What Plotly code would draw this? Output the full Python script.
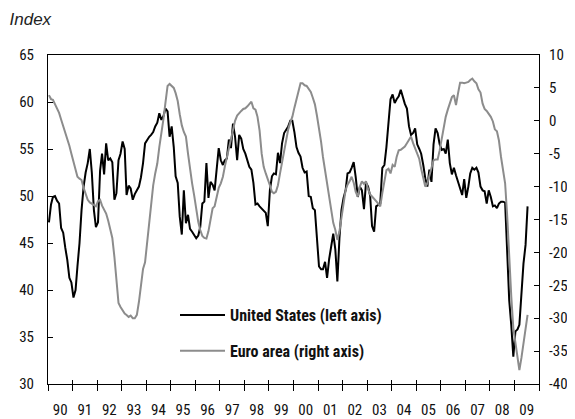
import pandas as pd
import plotly.graph_objects as go

# Monthly values, Jan 1990 .. Jul 2009
us_pmi = [
    47.2, 49.1, 49.9, 50.0, 49.5, 49.2, 46.6, 46.1, 44.5, 43.2, 41.3, 40.8,   # 1990
    39.2, 40.0, 42.5, 45.0, 48.5, 51.0, 52.5, 53.5, 55.0, 52.5, 48.5, 46.7,   # 1991
    47.2, 52.7, 54.5, 52.3, 55.6, 53.8, 54.0, 53.6, 49.6, 50.3, 53.8, 54.5,   # 1992
    55.8, 55.0, 50.1, 51.1, 50.8, 49.6, 50.2, 50.6, 51.0, 52.0, 53.5, 55.6,   # 1993
    56.0, 56.3, 56.5, 56.8, 57.4, 57.8, 58.8, 58.1, 58.5, 59.3, 59.0, 56.3,   # 1994
    57.4, 55.2, 52.1, 51.4, 47.8, 45.9, 50.6, 47.1, 48.0, 46.5, 46.2, 45.9,   # 1995
    45.5, 45.8, 46.7, 49.2, 49.4, 53.5, 49.8, 51.5, 51.2, 50.6, 53.0, 55.1,   # 1996
    53.8, 53.3, 53.8, 54.0, 56.0, 55.1, 57.7, 56.3, 53.8, 56.5, 56.1, 55.0,   # 1997
    54.5, 53.8, 53.1, 52.8, 51.4, 49.1, 49.2, 48.9, 48.7, 48.5, 48.2, 46.8,   # 1998
    50.6, 52.1, 52.4, 52.3, 54.6, 53.5, 55.6, 56.7, 57.0, 57.4, 58.0, 58.0,   # 1999
    56.8, 55.2, 54.6, 54.2, 53.0, 52.5, 52.6, 50.0, 49.9, 48.7, 48.5, 45.0,   # 2000
    42.5, 42.2, 42.2, 43.0, 41.3, 43.3, 44.6, 46.0, 44.3, 40.9, 45.5, 48.5,   # 2001
    49.8, 50.6, 52.4, 52.5, 53.0, 53.6, 52.0, 49.9, 51.0, 50.6, 48.6, 51.4,   # 2002
    51.0, 50.0, 46.8, 46.2, 48.9, 49.1, 49.2, 53.0, 53.3, 55.2, 57.8, 60.3,   # 2003
    60.8, 59.9, 60.3, 60.6, 61.3, 60.5, 59.8, 59.3, 57.4, 56.5, 56.7, 57.2,   # 2004
    55.5, 55.0, 54.5, 53.3, 51.9, 51.0, 52.8, 51.5, 55.5, 57.2, 56.7, 55.5,   # 2005
    54.9, 55.0, 54.5, 56.0, 53.5, 52.3, 53.0, 52.2, 51.5, 51.0, 50.1, 51.8,   # 2006
    49.8, 51.0, 52.4, 53.0, 52.8, 53.0, 52.5, 51.0, 50.6, 50.5, 49.2, 50.6,   # 2007
    49.9, 48.9, 49.0, 48.7, 49.2, 49.4, 49.4, 49.3, 43.5, 38.9, 36.2, 32.9,   # 2008
    35.6, 35.8, 36.3, 40.1, 42.8, 44.8, 48.9,                                 # 2009
]

euro_conf = [
    3.9, 3.3, 3.2, 2.5, 1.8, 1.2, 0.2, -0.8, -1.8, -2.5, -3.8, -5.0,            # 1990
    -6.3, -7.5, -8.5, -8.8, -9.0, -10.2, -11.0, -12.0, -12.4, -12.6, -12.8, -13.0,  # 1991
    -12.2, -12.0, -12.9, -13.5, -14.1, -15.2, -16.5, -17.8, -20.7, -24.7, -27.7, -28.3,  # 1992
    -28.8, -29.3, -29.5, -29.8, -29.6, -30.0, -30.0, -29.5, -27.5, -24.5, -22.5, -21.5,  # 1993
    -18.5, -15.0, -11.8, -9.8, -8.0, -6.5, -4.0, -2.0, 0.3, 2.8, 5.3, 5.6,       # 1994
    5.3, 5.0, 4.2, 3.0, 1.0, -0.7, -1.7, -2.4, -5.0, -7.5, -9.5, -11.3,          # 1995
    -13.5, -15.4, -16.6, -17.5, -17.8, -17.9, -16.8, -14.8, -13.3, -13.0, -11.8, -10.2,  # 1996
    -9.5, -8.5, -7.0, -5.5, -4.2, -3.0, -1.2, 0.0, 0.8, 1.2, 1.5, 1.8,           # 1997
    1.9, 2.2, 2.6, 2.9, 1.9, 1.7, 0.6, -1.5, -5.0, -7.0, -8.0, -8.8,             # 1998
    -9.8, -10.8, -11.0, -10.8, -9.8, -8.0, -6.2, -4.8, -2.6, -1.3, -0.2, 0.6,    # 1999
    2.0, 3.2, 4.2, 5.7, 5.7, 5.4, 5.3, 4.9, 4.4, 3.5, 2.5, 0.8,                  # 2000
    -1.0, -3.2, -5.5, -7.5, -9.7, -11.5, -13.5, -15.5, -16.6, -18.1, -16.8, -14.6,  # 2001
    -12.0, -10.5, -9.7, -9.2, -8.5, -9.4, -10.8, -11.5, -10.0, -9.2, -9.6, -9.2,  # 2002
    -10.4, -11.2, -11.5, -11.8, -12.2, -12.6, -13.0, -11.0, -9.0, -7.5, -7.3, -8.0,  # 2003
    -6.7, -7.0, -5.5, -4.5, -4.4, -4.2, -3.9, -3.4, -2.8, -2.4, -3.4, -4.2,      # 2004
    -4.8, -5.8, -7.3, -8.7, -10.0, -9.5, -8.2, -7.0, -6.0, -5.9, -5.9, -4.5,     # 2005
    -2.6, -1.0, 0.6, 1.7, 2.8, 3.6, 3.9, 2.4, 4.2, 5.8, 5.8, 5.7,                # 2006
    5.8, 5.9, 6.2, 6.4, 6.0, 5.7, 4.8, 4.3, 2.6, 1.8, 1.5, 1.1,                  # 2007
    0.6, -0.1, -1.3, -1.6, -3.0, -5.5, -7.5, -9.5, -14.5, -21.5, -26.8, -31.5,   # 2008
    -33.9, -35.5, -37.9, -36.0, -34.0, -32.0, -29.5,                             # 2009
]

right_tick_vals = [-40, -35, -30, -25, -20, -15, -10, -5, 0, 5, 10]
right_tick_text = ["-40", "-35", "-30", "-25", "-20", "-15", "-10", "-5", "0", "5", "10"]

dates = pd.date_range("1990-01-01", periods=len(us_pmi), freq="MS") + pd.Timedelta(days=14)

us_name = "United States (left axis)"
euro_name = "Euro area (right axis)"

FONT = "Roboto Condensed, Liberation Sans Narrow, Liberation Sans, sans-serif"
TITLE_FONT = "Liberation Sans, Arial, sans-serif"

# page offset of the figure inside the html body (8px body margin)
OFF = 8
W, H = 575, 419
L, R, T, B = 48 - OFF, W - 539 + OFF, 55 - OFF, H - (384 - OFF)
PW, PH = W - L - R, H - T - B

fig = go.Figure()
fig.add_trace(go.Scatter(x=dates, y=us_pmi, name=us_name, mode="lines",
                         line=dict(color="#000000", width=2),
                         xaxis="x", yaxis="y", legendgroup="a"))
fig.add_trace(go.Scatter(x=dates, y=euro_conf, name=euro_name, mode="lines",
                         line=dict(color="#8c8c8c", width=2),
                         xaxis="x2", yaxis="y2", legendgroup="b"))

xr = ["1990-01-01", "2010-01-01"]
fig.update_layout(
    width=W, height=H,
    template="none",
    paper_bgcolor="white", plot_bgcolor="white",
    margin=dict(l=L, r=R, t=T, b=B, pad=0),
    font=dict(family=FONT, size=15, color="#111111"),
    title=dict(text="Index", x=1.5 / W, xanchor="left", xref="container",
               y=1 - (19 - OFF) / H, yanchor="middle", yref="container",
               font=dict(family=TITLE_FONT, size=17, style="italic", color="#222222")),
    xaxis=dict(type="date", range=xr, dtick="M12", tick0="1990-01-01",
               tickformat="%y", ticklabelmode="period",
               ticks="outside", ticklen=6, tickcolor="#000", tickwidth=1,
               showline=True, linecolor="#000", linewidth=1, mirror=True,
               showgrid=False, zeroline=False, automargin=False,
               ticklabelstandoff=6,
               tickfont=dict(family=FONT, size=15)),
    xaxis2=dict(type="date", range=xr, dtick="M12", tick0="1990-01-01",
                overlaying="x", anchor="y",
                ticks="inside", ticklen=4, tickcolor="#000", tickwidth=1,
                showticklabels=False, showline=False, showgrid=False,
                zeroline=False, automargin=False),
    yaxis=dict(range=[30, 65], dtick=5, tick0=30,
               ticks="inside", ticklen=5, tickcolor="#000",
               showline=True, linecolor="#000", linewidth=1,
               showgrid=False, zeroline=False, automargin=False,
               ticklabelstandoff=10, tickfont=dict(family=FONT, size=15)),
    yaxis2=dict(range=[-40, 10], tickmode="array", tickvals=right_tick_vals,
                ticktext=right_tick_text, overlaying="y", side="right",
                anchor="x",
                ticks="inside", ticklen=5, tickcolor="#000",
                showline=True, linecolor="#000", linewidth=1,
                showgrid=False, zeroline=False, automargin=False,
                ticklabelstandoff=6, tickfont=dict(family=FONT, size=15)),
    showlegend=True,
    legend=dict(x=(175 - OFF - L) / PW, xanchor="left",
                y=(384 - 298) / PH, yanchor="top",
                bgcolor="rgba(0,0,0,0)", borderwidth=0,
                tracegroupgap=12, traceorder="grouped",
                font=dict(family=FONT, size=16, weight="bold", color="#111111"),
                itemwidth=45),
)

fig.write_html("out.html")
